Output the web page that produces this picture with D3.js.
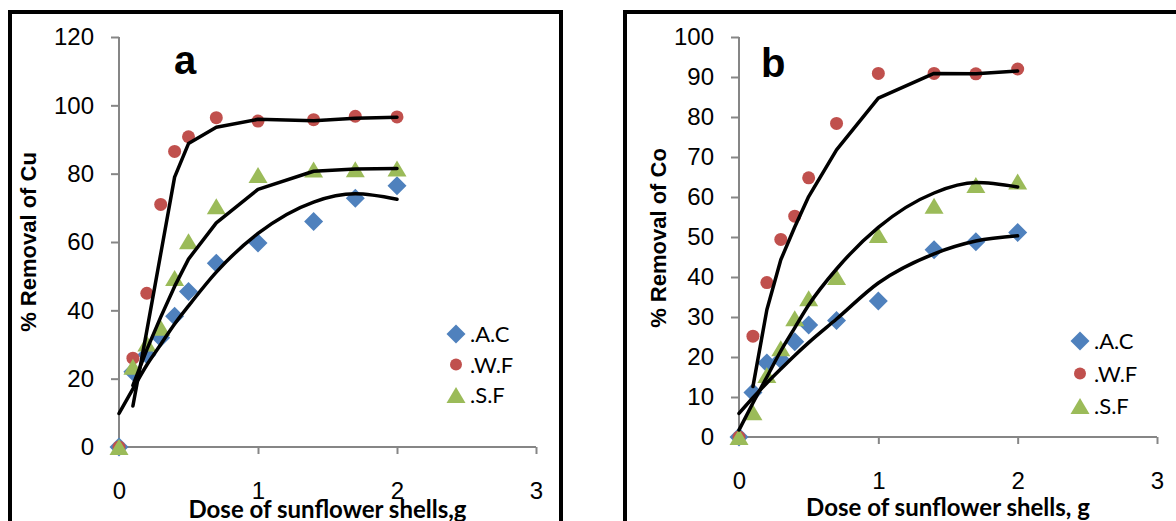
<!DOCTYPE html>
<html>
<head>
<meta charset="utf-8">
<script src="https://cdn.jsdelivr.net/npm/d3@7"></script>
<style>
  body { margin: 0; background: #ffffff; }
  svg { display: block; }
</style>
</head>
<body>
<script>
// doses of sunflower shells (g) shared by both panels
var doses = [0, 0.1, 0.2, 0.3, 0.4, 0.5, 0.7, 1.0, 1.4, 1.7, 2.0];

// panel a: % removal of Cu
var cuAC = [0, 22, 27, 32, 38.3, 45.5, 53.8, 59.7, 66, 72.8, 76.5];
var cuWF = [0, 26, 45, 71, 86.5, 90.8, 96.4, 95.4, 95.8, 96.8, 96.6];
var cuSF = [0, 23.5, 30.3, 34.9, 49.5, 60.2, 70.5, 79.6, 81.2, 81.3, 81.5];

// panel a trend lines
var cuFitACx = [0, 0.1, 0.2, 0.3, 0.4, 0.5, 0.7, 1.0, 1.4, 1.7, 2.0];
var cuFitAC  = [9.8, 17, 24, 30, 36, 41.3, 51.2, 62.5, 71.7, 74.1, 72.5];
var cuFitWFx = [0.1, 0.2, 0.3, 0.4, 0.5, 0.7, 1.0, 1.4, 1.7, 2.0];
var cuFitWF  = [12, 34, 56.5, 79, 88.8, 93.6, 95.9, 95.5, 96.2, 96.5];
var cuFitSFx = [0.1, 0.2, 0.3, 0.4, 0.5, 0.7, 1.0, 1.4, 1.7, 2.0];
var cuFitSF  = [18, 28.5, 38, 47, 55, 65.6, 75.4, 80.7, 81.4, 81.5];

// panel b: % removal of Co
var coAC = [0, 11.1, 18.5, 19.3, 23.8, 28, 29.1, 34, 46.8, 48.8, 51.1];
var coWF = [0, 25.2, 38.6, 49.4, 55.2, 64.8, 78.4, 90.9, 90.9, 90.8, 92];
var coSF = [0, 6.2, 15.5, 22.2, 29.7, 34.7, 40, 50.5, 57.8, 63, 63.9];

// panel b trend lines
var coFitACx = [0, 0.1, 0.2, 0.3, 0.4, 0.5, 0.7, 1.0, 1.4, 1.7, 2.0];
var coFitAC  = [5.9, 9.8, 13.5, 17, 20.4, 23.6, 29.5, 38.5, 45.8, 49, 50.3];
var coFitWFx = [0.1, 0.2, 0.3, 0.4, 0.5, 0.7, 1.0, 1.4, 1.7, 2.0];
var coFitWF  = [12.6, 31.8, 44.3, 52.5, 60.1, 71.8, 84.7, 90.9, 90.8, 91.5];
var coFitSFx = [0, 0.1, 0.2, 0.3, 0.4, 0.5, 0.7, 1.0, 1.4, 1.7, 2.0];
var coFitSF  = [1.75, 8.5, 15, 21.5, 27.3, 33, 42, 52.4, 61, 63.6, 62.5];

var legendLabels = [".A.C", ".W.F", ".S.F"];
var xTicks = [0, 1, 2, 3];
var cuTicks = [0, 20, 40, 60, 80, 100, 120];
var coTicks = [0, 10, 20, 30, 40, 50, 60, 70, 80, 90, 100];

var colors = {ac: "#4F81BD", wf: "#C0504D", sf: "#9BBB59"};

var svg = d3.select("body").append("svg")
    .attr("width", 1176)
    .attr("height", 521);

// marker paths, Excel style: square diamond, circle, triangle
function diamondPath(h) {
    return "M0," + (-h) + "L" + h + ",0L0," + h + "L" + (-h) + ",0Z";
}
function trianglePath(w, h) {
    return "M0," + (-h / 2) + "L" + (w / 2) + "," + (h / 2) + "L" + (-w / 2) + "," + (h / 2) + "Z";
}
function circlePath(r) {
    return "M" + r + ",0A" + r + "," + r + " 0 1,1 " + (-r) + ",0A" + r + "," + r + " 0 1,1 " + r + ",0Z";
}

var markers = {
    ac: diamondPath(9.5),
    wf: circlePath(6.5),
    sf: trianglePath(19, 16)
};

function zip(xs, ys) {
    return xs.map(function (x, i) { return {x: x, y: ys[i]}; });
}

// function to draw one framed panel
function drawPanel(p) {
    var g = svg.append("g").attr("class", "panel");

    g.append("rect")
        .attr("x", p.frame[0]).attr("y", p.frame[1])
        .attr("width", p.frame[2]).attr("height", 700)
        .attr("fill", "none")
        .attr("stroke", "#000")
        .attr("stroke-width", 4);

    var xScale = d3.scaleLinear().domain([0, 3]).range(p.xRange);
    var yScale = d3.scaleLinear().domain([0, p.yMax]).range(p.yRange);

    // axes
    var yAxis = d3.axisLeft(yScale).tickValues(p.yTicks).tickSize(8).tickPadding(17).tickFormat(d3.format("d"));
    var xAxis = d3.axisBottom(xScale).tickValues(xTicks).tickSize(7).tickPadding(28).tickFormat(d3.format("d"));

    var gy = g.append("g").attr("transform", "translate(" + p.xRange[0] + ",0)").call(yAxis);
    var gx = g.append("g").attr("transform", "translate(0," + p.yRange[0] + ")").call(xAxis);

    [gx, gy].forEach(function (ax) {
        ax.select(".domain").attr("stroke", "#868686").attr("stroke-width", 2);
        ax.selectAll(".tick line").attr("stroke", "#868686").attr("stroke-width", 2);
        ax.selectAll(".tick text")
            .attr("fill", "#000")
            .style("font-family", "'Liberation Sans', Arial, sans-serif")
            .style("font-size", "24px");
    });
    gx.select(".domain").attr("d", "M" + p.xRange[0] + ",0H" + p.xRange[1]);
    gy.select(".domain").attr("d", "M0," + p.yRange[0] + "V" + p.yRange[1]);

    // scatter markers, drawn in series order
    var series = [
        {key: "ac", vals: p.ac},
        {key: "wf", vals: p.wf},
        {key: "sf", vals: p.sf}
    ];
    series.forEach(function (s) {
        g.append("g").selectAll("path")
            .data(zip(doses, s.vals))
            .enter()
            .append("path")
            .attr("d", markers[s.key])
            .attr("fill", colors[s.key])
            .attr("transform", function (d) { return "translate(" + xScale(d.x) + "," + yScale(d.y) + ")"; });
    });

    // trend lines on top
    p.fits.forEach(function (f) {
        var line = d3.line()
            .x(function (d) { return xScale(d.x); })
            .y(function (d) { return yScale(d.y); })
            .curve(f.smooth ? d3.curveMonotoneX : d3.curveLinear);
        g.append("path")
            .datum(zip(f.xs, f.ys))
            .attr("d", line)
            .attr("fill", "none")
            .attr("stroke", "#000")
            .attr("stroke-width", 3.5)
            .attr("stroke-linejoin", "round")
            .attr("stroke-linecap", "round");
    });

    // panel letter
    g.append("text")
        .attr("x", p.letterPos[0]).attr("y", p.letterPos[1])
        .text(p.letter)
        .style("font-family", "'Liberation Sans', Arial, sans-serif")
        .style("font-weight", "bold")
        .style("font-size", "40px");

    // axis titles
    g.append("text")
        .attr("transform", "translate(" + p.yTitlePos[0] + "," + p.yTitlePos[1] + ") rotate(-90)")
        .attr("text-anchor", "middle")
        .text(p.yTitle)
        .style("font-family", "'Liberation Sans', Arial, sans-serif")
        .style("font-weight", "bold")
        .style("font-size", "22px");

    g.append("text")
        .attr("x", (p.xRange[0] + p.xRange[1]) / 2)
        .attr("y", p.xTitleY)
        .attr("text-anchor", "middle")
        .text(p.xTitle)
        .style("font-family", "Lato, 'Open Sans', sans-serif")
        .style("font-weight", "bold")
        .style("font-size", "24px");

    // legend
    var lg = g.append("g").attr("transform", "translate(" + p.legendPos[0] + "," + p.legendPos[1] + ")");
    ["ac", "wf", "sf"].forEach(function (k, i) {
        var row = lg.append("g").attr("transform", "translate(0," + (i * p.legendStep) + ")");
        row.append("path")
            .attr("d", k == "wf" ? circlePath(6) : markers[k])
            .attr("fill", colors[k]);
        row.append("text")
            .attr("x", 14)
            .attr("y", 8)
            .text(legendLabels[i])
            .style("font-family", "Lato, 'Open Sans', sans-serif")
            .style("font-size", "22px");
    });
}

drawPanel({
    frame: [10, 12, 551],
    xRange: [119, 536],
    yRange: [447, 37],
    yMax: 120,
    yTicks: cuTicks,
    ac: cuAC, wf: cuWF, sf: cuSF,
    fits: [
        {xs: cuFitACx, ys: cuFitAC, smooth: true},
        {xs: cuFitWFx, ys: cuFitWF, smooth: false},
        {xs: cuFitSFx, ys: cuFitSF, smooth: false}
    ],
    letter: "a", letterPos: [174, 74],
    yTitle: "% Removal of Cu", yTitlePos: [36, 242],
    xTitle: "Dose of sunflower shells,g", xTitleY: 518,
    legendPos: [456, 334], legendStep: 30.5
});

drawPanel({
    frame: [625, 12, 700],
    xRange: [739, 1157],
    yRange: [437, 37],
    yMax: 100,
    yTicks: coTicks,
    ac: coAC, wf: coWF, sf: coSF,
    fits: [
        {xs: coFitACx, ys: coFitAC, smooth: true},
        {xs: coFitWFx, ys: coFitWF, smooth: false},
        {xs: coFitSFx, ys: coFitSF, smooth: true}
    ],
    letter: "b", letterPos: [761, 77],
    yTitle: "% Removal of Co", yTitlePos: [666, 238],
    xTitle: "Dose of sunflower shells, g", xTitleY: 516,
    legendPos: [1080, 341], legendStep: 32.5
});
</script>
</body>
</html>
